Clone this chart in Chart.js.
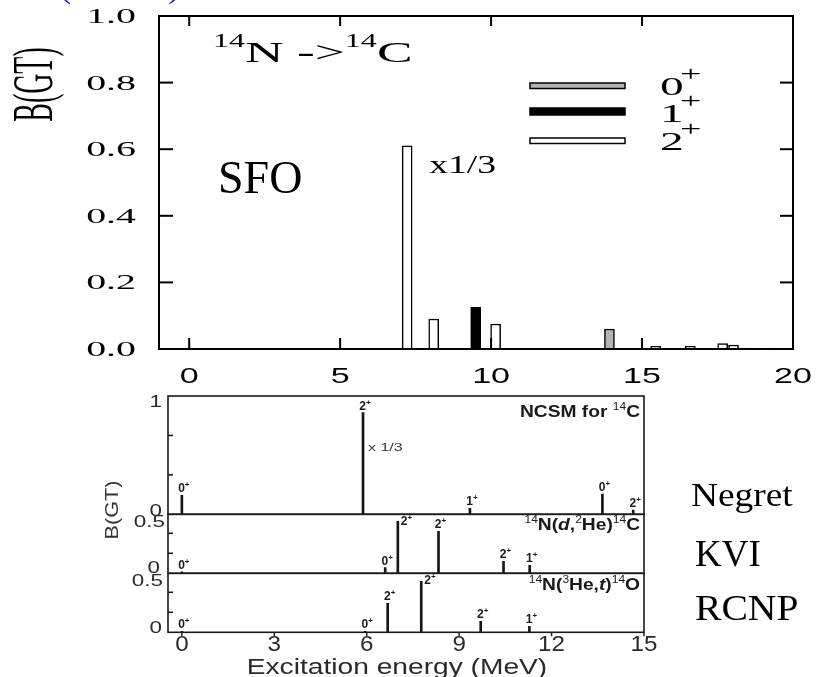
<!DOCTYPE html>
<html>
<head>
<meta charset="utf-8">
<script src="https://cdn.jsdelivr.net/npm/chart.js@4/dist/chart.umd.min.js"></script>
<style>
  html, body { margin: 0; padding: 0; background: #fff; }
  #wrap { position: relative; width: 817px; height: 677px; overflow: hidden; background: #fff; }
  #wrap canvas { position: absolute; left: 0; }
  .inset { filter: blur(0.45px); }
</style>
</head>
<body>
<div id="wrap">
  <canvas id="sfo" width="817" height="677" style="top:0"></canvas>
  <canvas id="ncsm" class="inset" width="817" height="297" style="top:380px"></canvas>
  <canvas id="kvi" class="inset" width="817" height="297" style="top:380px"></canvas>
  <canvas id="rcnp" class="inset" width="817" height="297" style="top:380px"></canvas>
</div>
<script>
// ---- SFO shell-model Gamow-Teller strengths, 14N -> 14C (MeV, B(GT)) ----
const sfoE0 = [6.47, 13.45, 13.92, 14.3, 14.6, 16.0, 19.25];
const sfoB0 = [0.002, 0.002, 0.06, 0.002, 0.002, 0.002, 0.003];
const sfoE1 = [9.49, 18.4];
const sfoB1 = [0.125, 0.003];
const sfoE2 = [7.22, 8.1, 10.15, 15.45, 16.6, 17.67, 18.03];
const sfoB2 = [0.61, 0.09, 0.075, 0.008, 0.008, 0.016, 0.012];
const sfoXTicks = [0, 5, 10, 15, 20];
const sfoYTicks = [0, 0.2, 0.4, 0.6, 0.8, 1.0];

// ---- NCSM and measured strengths (excitation energy in MeV) ----
const ncsmE = [0.0, 5.88, 9.35, 13.65, 14.65];
const ncsmB = [0.16, 0.86, 0.05, 0.17, 0.035];
const ncsmJ = ['0', '2', '1', '0', '2'];
const kviE = [0.0, 6.6, 7.01, 8.33, 10.44, 11.29];
const kviB = [0.015, 0.056, 0.52, 0.42, 0.12, 0.08];
const kviJ = ['0', '0', '2', '2', '2', '1'];
const rcnpE = [0.0, 5.95, 6.68, 7.77, 9.7, 11.28];
const rcnpB = [0.01, 0.01, 0.29, 0.51, 0.11, 0.06];
const rcnpJ = ['0', '0', '2', '2', '2', '1'];
const insetXTicks = [0, 3, 6, 9, 12, 15];

const SERIF = 'Liberation Serif';
const SANS = 'Liberation Sans';

function pts(xs, ys) { return xs.map((x, i) => ({ x: x, y: ys[i] })); }

// draw a run of text pieces (with super-scripts), stretched horizontally by sx
function rich(ctx, parts, x, y, opt) {
  opt = opt || {};
  const sx = opt.sx || 1;
  ctx.save();
  let total = 0;
  parts.forEach(p => { ctx.font = p.f; p.w = ctx.measureText(p.t).width; total += p.w + (p.dx || 0); });
  let x0 = 0;
  if (opt.align === 'right') x0 = -total * sx;
  else if (opt.align === 'center') x0 = -total * sx / 2;
  ctx.translate(x, y);
  if (opt.rot) ctx.rotate(opt.rot);
  ctx.translate(x0, 0);
  ctx.scale(sx, 1);
  ctx.fillStyle = opt.color || '#000';
  ctx.textAlign = 'left';
  ctx.textBaseline = 'alphabetic';
  let cx = 0;
  parts.forEach(p => {
    ctx.font = p.f;
    cx += (p.dx || 0);
    ctx.fillText(p.t, cx, p.dy || 0);
    cx += p.w;
  });
  ctx.restore();
}

function line(ctx, x1, y1, x2, y2) {
  ctx.beginPath(); ctx.moveTo(x1, y1); ctx.lineTo(x2, y2); ctx.stroke();
}

// ---------------- upper plot: SFO ----------------
const sfoFrame = {
  id: 'sfoFrame',
  afterDatasetsDraw(chart) {
    const { ctx, chartArea: a, scales: { x, y } } = chart;
    ctx.save();
    ctx.strokeStyle = '#000';
    ctx.lineWidth = 2;
    ctx.strokeRect(a.left, a.top, a.right - a.left, a.bottom - a.top);
    sfoXTicks.forEach(v => {
      if (v <= x.min || v >= x.max) return;
      const px = x.getPixelForValue(v);
      line(ctx, px, a.top, px, a.top + 10);
      line(ctx, px, a.bottom, px, a.bottom - 11);
    });
    sfoYTicks.forEach(v => {
      if (v <= y.min || v >= y.max) return;
      const py = y.getPixelForValue(v);
      line(ctx, a.left, py, a.left + 14, py);
      line(ctx, a.right, py, a.right - 13, py);
    });
    // tick labels
    sfoYTicks.forEach(v => {
      const py = y.getPixelForValue(v);
      rich(ctx, [{ t: v.toFixed(1), f: `21px ${SERIF}` }], 136, py + 7, { sx: 1.9, align: 'right' });
    });
    sfoXTicks.forEach(v => {
      const px = x.getPixelForValue(v);
      rich(ctx, [{ t: String(v), f: `22px ${SANS}` }], px, 383, { sx: 1.55, align: 'center' });
    });

    // axis title, set vertically
    rich(ctx, [{ t: 'B(GT)', f: `57px ${SERIF}` }], 52, 84.5, { sx: 0.49, rot: -Math.PI / 2, align: 'center' });

    // reaction label
    rich(ctx, [
      { t: '14', f: `18px ${SERIF}`, dy: -15 },
      { t: 'N', f: `30px ${SERIF}` },
      { t: ' ->', f: `30px ${SERIF}` },
      { t: '14', f: `18px ${SERIF}`, dy: -15 },
      { t: 'C', f: `30px ${SERIF}` }
    ], 213, 62, { sx: 1.78 });

    rich(ctx, [{ t: 'SFO', f: `46px ${SERIF}` }], 218, 193, {});

    // scale note next to the strongest 2+ bar
    const tallX = x.getPixelForValue(sfoE2[0]);
    rich(ctx, [{ t: 'x1/3', f: `26px ${SERIF}` }], tallX + 22, 173, { sx: 1.45 });

    // legend
    const swatches = [
      { fill: '#b4b4b4', y0: 83, h: 5.5, lab: '0' },
      { fill: '#000', y0: 108, h: 7, lab: '1' },
      { fill: '#fff', y0: 138, h: 5.5, lab: '2' }
    ];
    const base = [95, 121.5, 150];
    swatches.forEach((s, i) => {
      ctx.fillStyle = s.fill;
      ctx.fillRect(530, s.y0, 95, s.h);
      ctx.lineWidth = 1.5;
      ctx.strokeStyle = '#000';
      ctx.strokeRect(530, s.y0, 95, s.h);
      rich(ctx, [
        { t: s.lab, f: `25px ${SERIF}` },
        { t: '+', f: `20px ${SERIF}`, dy: -14, dx: -2 }
      ], 660, base[i], { sx: 1.9 });
    });
    ctx.restore();

    // cut-off bracket marks at the top edge
    ctx.save();
    ctx.fillStyle = '#2a2ae0';
    ctx.font = `40px ${SERIF}`;
    ctx.textBaseline = 'alphabetic';
    ctx.fillText('(', 58, -4);
    ctx.fillText(')', 168, -4);
    ctx.restore();

    // data-set names beside the lower plot
    rich(ctx, [{ t: 'Negret', f: `34px ${SERIF}` }], 691, 506, { sx: 1.1 });
    rich(ctx, [{ t: 'KVI', f: `37px ${SERIF}` }], 695, 566, { sx: 1.0 });
    rich(ctx, [{ t: 'RCNP', f: `36px ${SERIF}` }], 695, 620, { sx: 1.1 });
  }
};

const sfoBorder = c => {
  const v = c.raw ? c.raw.y : 0;
  return v < 0.005 ? '#c4c4c4' : '#000';
};

new Chart(document.getElementById('sfo'), {
  type: 'bar',
  data: {
    datasets: [
      { label: '0+', data: pts(sfoE0, sfoB0), backgroundColor: '#b4b4b4', borderColor: sfoBorder, borderWidth: 1.5, barThickness: 10, grouped: false },
      { label: '1+', data: pts(sfoE1, sfoB1), backgroundColor: '#000', borderColor: '#000', borderWidth: 1.5, barThickness: 10, grouped: false },
      { label: '2+', data: pts(sfoE2, sfoB2), backgroundColor: '#fff', borderColor: '#000', borderWidth: 1.5, barThickness: 10, grouped: false }
    ]
  },
  options: {
    responsive: false,
    animation: false,
    devicePixelRatio: 1,
    events: [],
    layout: { padding: { left: 159, right: 24, top: 16, bottom: 328 } },
    plugins: { legend: { display: false }, tooltip: { enabled: false } },
    scales: {
      x: { type: 'linear', min: -1, max: 20, offset: false, display: false },
      y: { min: 0, max: 1, display: false }
    }
  },
  plugins: [sfoFrame]
});

// ---------------- lower plot: three stacked panels ----------------
function barLabels(chart, E, B, J) {
  const { ctx, chartArea: a, scales: { x, y } } = chart;
  E.forEach((e, i) => {
    const px = x.getPixelForValue(e);
    const py = y.getPixelForValue(B[i]);
    const parts = [
      { t: J[i], f: `bold 12px ${SANS}` },
      { t: '+', f: `bold 8px ${SANS}`, dy: -5 }
    ];
    if (py - 13 < a.top) rich(ctx, parts, px + 3, a.top + 11, { color: '#1a1a1a' });
    else rich(ctx, parts, px + 2, py - 3, { align: 'center', color: '#1a1a1a' });
  });
}

function panelFrame(chart, yTickVals) {
  const { ctx, chartArea: a, scales: { y } } = chart;
  ctx.save();
  ctx.strokeStyle = '#1a1a1a';
  ctx.lineWidth = 1.6;
  ctx.strokeRect(a.left, a.top, a.right - a.left, a.bottom - a.top);
  yTickVals.forEach(v => {
    const py = y.getPixelForValue(v);
    line(ctx, a.left, py, a.left + 5, py);
  });
  ctx.restore();
}

function yLabel(chart, text, v, dy, right) {
  const { ctx, scales: { y } } = chart;
  rich(ctx, [{ t: text, f: `16px ${SANS}` }], right, y.getPixelForValue(v) + dy, { sx: 1.4, align: 'right', color: '#2a2a2a' });
}

function panelOptions(top, bottom, ymax) {
  return {
    responsive: false,
    animation: false,
    devicePixelRatio: 1,
    events: [],
    layout: { padding: { left: 168, right: 173, top: top, bottom: bottom } },
    plugins: { legend: { display: false }, tooltip: { enabled: false } },
    scales: {
      x: { type: 'linear', min: -0.45, max: 15, offset: false, display: false },
      y: { min: 0, max: ymax, display: false }
    }
  };
}

function stickSet(E, B) {
  return { data: pts(E, B), backgroundColor: '#161616', borderWidth: 0, barThickness: 2, grouped: false };
}

new Chart(document.getElementById('ncsm'), {
  type: 'bar',
  data: { datasets: [stickSet(ncsmE, ncsmB)] },
  options: panelOptions(16, 162.7, 1),
  plugins: [{
    id: 'ncsmDecor',
    afterDatasetsDraw(chart) {
      const { ctx, scales: { x } } = chart;
      panelFrame(chart, [1 / 3, 2 / 3]);
      barLabels(chart, ncsmE, ncsmB, ncsmJ);
      yLabel(chart, '1', 1, 10.7, 162);
      yLabel(chart, '0', 0, 1.4, 162);
      rich(ctx, [
        { t: 'NCSM for ', f: `bold 16px ${SANS}` },
        { t: '14', f: `10px ${SANS}`, dy: -7 },
        { t: 'C', f: `bold 16px ${SANS}` }
      ], 640, 36.7, { sx: 1.2, align: 'right', color: '#1a1a1a' });
      const px = x.getPixelForValue(ncsmE[1]);
      rich(ctx, [{ t: 'x 1/3', f: `11px ${SANS}` }], px + 5, 71, { sx: 1.45, color: '#3a3a3a' });
    }
  }]
});

new Chart(document.getElementById('kvi'), {
  type: 'bar',
  data: { datasets: [stickSet(kviE, kviB)] },
  options: panelOptions(134.3, 103.7, 0.59),
  plugins: [{
    id: 'kviDecor',
    afterDatasetsDraw(chart) {
      const { ctx } = chart;
      panelFrame(chart, [0.2, 0.4]);
      barLabels(chart, kviE, kviB, kviJ);
      yLabel(chart, '0.5', 0.5, 4.1, 165);
      yLabel(chart, '0', 0, -0.6, 160);
      rich(ctx, [
        { t: '14', f: `10px ${SANS}`, dy: -7 },
        { t: 'N(', f: `bold 16px ${SANS}` },
        { t: 'd', f: `italic bold 16px ${SANS}` },
        { t: ',', f: `bold 16px ${SANS}` },
        { t: '2', f: `10px ${SANS}`, dy: -7 },
        { t: 'He)', f: `bold 16px ${SANS}` },
        { t: '14', f: `10px ${SANS}`, dy: -7 },
        { t: 'C', f: `bold 16px ${SANS}` }
      ], 640, 150, { sx: 1.2, align: 'right', color: '#1a1a1a' });
      // vertical axis title
      rich(ctx, [{ t: 'B(GT)', f: `18px ${SANS}` }], 118, 130, { sx: 1.2, rot: -Math.PI / 2, align: 'center', color: '#333' });
    }
  }]
});

new Chart(document.getElementById('rcnp'), {
  type: 'bar',
  data: { datasets: [stickSet(rcnpE, rcnpB)] },
  options: panelOptions(193.3, 44.7, 0.59),
  plugins: [{
    id: 'rcnpDecor',
    afterDatasetsDraw(chart) {
      const { ctx, chartArea: a, scales: { x } } = chart;
      panelFrame(chart, [0.2, 0.4]);
      barLabels(chart, rcnpE, rcnpB, rcnpJ);
      yLabel(chart, '0.5', 0.5, 3.4, 163);
      yLabel(chart, '0', 0, 0.9, 162);
      rich(ctx, [
        { t: '14', f: `10px ${SANS}`, dy: -7 },
        { t: 'N(', f: `bold 16px ${SANS}` },
        { t: '3', f: `10px ${SANS}`, dy: -7 },
        { t: 'He,', f: `bold 16px ${SANS}` },
        { t: 't', f: `italic bold 16px ${SANS}` },
        { t: ')', f: `bold 16px ${SANS}` },
        { t: '14', f: `10px ${SANS}`, dy: -7 },
        { t: 'O', f: `bold 16px ${SANS}` }
      ], 640, 210, { sx: 1.2, align: 'right', color: '#1a1a1a' });
      ctx.save();
      ctx.strokeStyle = '#1a1a1a';
      ctx.lineWidth = 1.4;
      insetXTicks.forEach(v => {
        const px = x.getPixelForValue(v);
        line(ctx, px, a.bottom, px, a.bottom + 4);
        rich(ctx, [{ t: String(v), f: `22px ${SANS}` }], px, 271, { sx: 1.1, align: 'center', color: '#2a2a2a' });
      });
      ctx.restore();
      rich(ctx, [{ t: 'Excitation energy (MeV)', f: `22px ${SANS}` }], 397, 294, { sx: 1.28, align: 'center', color: '#2a2a2a' });
    }
  }]
});
</script>
</body>
</html>
